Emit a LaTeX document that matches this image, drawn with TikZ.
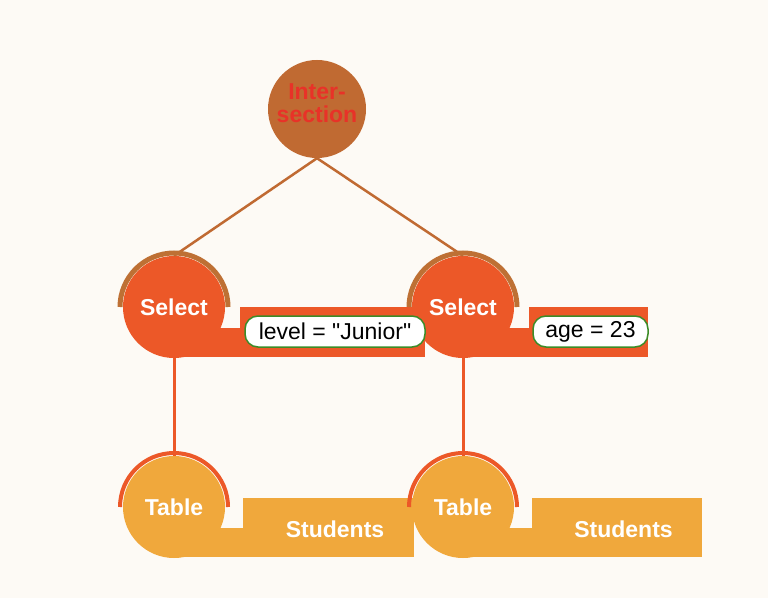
\documentclass[tikz,border=0pt]{standalone}
\usepackage{fontspec}
\setmainfont{Liberation Sans}
\newfontfamily\condfont{Liberation Sans}[Ligatures=TeXOff]
\definecolor{bgcream}{RGB}{253,250,245}
\definecolor{interbrown}{RGB}{192,106,50}
\definecolor{interred}{RGB}{232,50,40}
\definecolor{selorange}{RGB}{236,88,40}
\definecolor{arcbrown}{RGB}{190,112,52}
\definecolor{tabyellow}{RGB}{240,168,60}
\definecolor{condgreen}{RGB}{60,140,40}
\begin{document}
\begin{tikzpicture}[x=1pt,y=1pt,
	opnode/.style={circle,inner sep=0pt,minimum size=102pt,text=white,font=\bfseries\fontsize{23}{23}\selectfont},
	condbox/.style={draw=condgreen,line width=1.5pt,fill=white,rounded corners=13pt,minimum height=31pt,inner sep=0pt,font=\condfont\fontsize{23}{23}\selectfont},
	nametext/.style={text=white,font=\bfseries\fontsize{23}{23}\selectfont}]
	\fill[bgcream](0,0) rectangle (768,598);
					\fill[selorange](240,291) rectangle (425,241);
					\fill[selorange](174,270) rectangle (425,241);
					\fill[selorange](529,291) rectangle (648,241);
					\fill[selorange](463,270) rectangle (648,241);
					\fill[tabyellow](243,100) rectangle (414,41);
					\fill[tabyellow](174,70) rectangle (414,41);
					\fill[tabyellow](532,100) rectangle (702,41);
					\fill[tabyellow](463,70) rectangle (702,41);
	\node[opnode,fill=interbrown,minimum size=98pt] (inter) at (317,489) {};
	\node[text=interred,font=\bfseries\fontsize{23}{23}\selectfont,align=center] (intertext) at ([yshift=6pt]inter.center) {Inter-\\section};
	\node[opnode,fill=selorange] (sel1) at (174,291) {Select};
	\node[opnode,fill=selorange] (sel2) at (463,291) {Select};
	\node[opnode,fill=tabyellow] (tab1) at (174,91) {Table};
	\node[opnode,fill=tabyellow] (tab2) at (463,91) {Table};
					\draw[interbrown,line width=2.5pt](inter.south) -- (sel1.north);
					\draw[interbrown,line width=2.5pt](inter.south) -- (sel2.north);
					\draw[selorange,line width=3pt](sel1.south) -- (tab1.north);
					\draw[selorange,line width=3pt](sel2.south) -- (tab2.north);
					\draw[arcbrown,line width=5pt]([xshift=54pt]sel1.center) arc (0:180:54);
					\draw[arcbrown,line width=5pt]([xshift=54pt]sel2.center) arc (0:180:54);
					\draw[selorange,line width=4pt]([xshift=54pt]tab1.center) arc (0:180:54);
					\draw[selorange,line width=4pt]([xshift=54pt]tab2.center) arc (0:180:54);
	\node[condbox,minimum width=180pt] (cond1) at (335,266.5) {level = "Junior"};
	\node[condbox,minimum width=115pt] (cond2) at (590.5,266.5) {age = 23};
	\node[nametext] (name1) at (335,69) {Students};
	\node[nametext] (name2) at (623.5,69) {Students};
\end{tikzpicture}
\end{document}
